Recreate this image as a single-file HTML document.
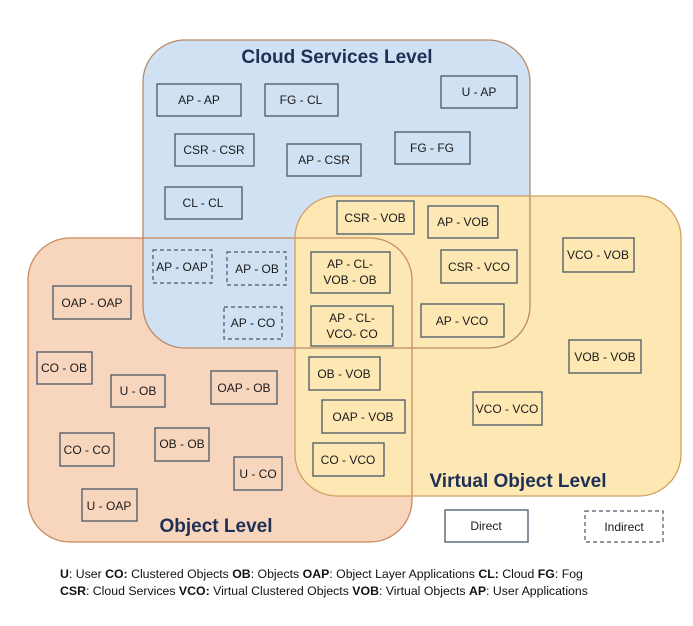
<!DOCTYPE html>
<html><head><meta charset="utf-8"><style>
html,body{margin:0;padding:0;background:#fff;}
svg{display:block;}
text{font-family:"Liberation Sans",sans-serif;}
.b{fill:none;stroke:#4a5868;stroke-width:1.3;}
.d{fill:none;stroke:#4a5868;stroke-width:1.2;stroke-dasharray:4 3;}
.t{font-size:12px;fill:#1a1a1a;text-anchor:middle;}
.h{font-size:19px;font-weight:bold;fill:#1f3056;}
.l{font-size:12.3px;fill:#111;}
</style></head><body>
<svg width="693" height="626" viewBox="0 0 693 626">
<rect width="693" height="626" fill="#fff"/>
<!-- fills -->
<rect x="28" y="238" width="384" height="304" rx="42" fill="#f8d5bd"/>
<rect x="143" y="40" width="387" height="308" rx="42" fill="#cfe1f3"/>
<rect x="295" y="196" width="386" height="300" rx="42" fill="#fde8b4"/>
<!-- outlines -->
<rect x="28" y="238" width="384" height="304" rx="42" fill="none" stroke="#c98a60" stroke-width="1.3"/>
<rect x="143" y="40" width="387" height="308" rx="42" fill="none" stroke="#b88a68" stroke-width="1.3"/>
<rect x="295" y="196" width="386" height="300" rx="42" fill="none" stroke="#d0a060" stroke-width="1.3"/>

<text class="h" x="337" y="63" text-anchor="middle">Cloud Services Level</text>
<text class="h" x="518" y="487" text-anchor="middle">Virtual Object Level</text>
<text class="h" x="216" y="532" text-anchor="middle">Object Level</text>

<g>
<rect class="b" x="157" y="84" width="84" height="32"/><text class="t" x="199" y="104">AP - AP</text>
<rect class="b" x="265" y="84" width="73" height="32"/><text class="t" x="301" y="104">FG - CL</text>
<rect class="b" x="441" y="76" width="76" height="32"/><text class="t" x="479" y="96">U - AP</text>
<rect class="b" x="175" y="134" width="79" height="32"/><text class="t" x="214" y="154">CSR - CSR</text>
<rect class="b" x="287" y="144" width="74" height="32"/><text class="t" x="324" y="164">AP - CSR</text>
<rect class="b" x="395" y="132" width="75" height="32"/><text class="t" x="432" y="152">FG - FG</text>
<rect class="b" x="165" y="187" width="77" height="32"/><text class="t" x="203" y="207">CL - CL</text>
<rect class="b" x="337" y="201" width="77" height="33"/><text class="t" x="375" y="222">CSR - VOB</text>
<rect class="b" x="428" y="206" width="70" height="32"/><text class="t" x="463" y="226">AP - VOB</text>
<rect class="b" x="563" y="238" width="71" height="34"/><text class="t" x="598" y="259">VCO - VOB</text>
<rect class="b" x="441" y="250" width="76" height="33"/><text class="t" x="479" y="271">CSR - VCO</text>
<rect class="b" x="421" y="304" width="83" height="33"/><text class="t" x="462" y="325">AP - VCO</text>
<rect class="b" x="311" y="252" width="79" height="41"/><text class="t" x="350" y="268">AP - CL-</text><text class="t" x="350" y="284">VOB - OB</text>
<rect class="b" x="311" y="306" width="82" height="40"/><text class="t" x="352" y="322">AP - CL-</text><text class="t" x="352" y="338">VCO- CO</text>
<rect class="d" x="153" y="250" width="59" height="33"/><text class="t" x="182" y="271">AP - OAP</text>
<rect class="d" x="227" y="252" width="59" height="33"/><text class="t" x="257" y="273">AP - OB</text>
<rect class="d" x="224" y="307" width="58" height="32"/><text class="t" x="253" y="327">AP - CO</text>
<rect class="b" x="53" y="286" width="78" height="33"/><text class="t" x="92" y="307">OAP - OAP</text>
<rect class="b" x="37" y="352" width="55" height="32"/><text class="t" x="64" y="372">CO - OB</text>
<rect class="b" x="111" y="375" width="54" height="32"/><text class="t" x="138" y="395">U - OB</text>
<rect class="b" x="211" y="371" width="66" height="33"/><text class="t" x="244" y="392">OAP - OB</text>
<rect class="b" x="309" y="357" width="71" height="33"/><text class="t" x="344" y="378">OB - VOB</text>
<rect class="b" x="322" y="400" width="83" height="33"/><text class="t" x="363" y="421">OAP - VOB</text>
<rect class="b" x="60" y="433" width="54" height="33"/><text class="t" x="87" y="454">CO - CO</text>
<rect class="b" x="155" y="428" width="54" height="33"/><text class="t" x="182" y="448">OB - OB</text>
<rect class="b" x="234" y="457" width="48" height="33"/><text class="t" x="258" y="478">U - CO</text>
<rect class="b" x="313" y="443" width="71" height="33"/><text class="t" x="348" y="464">CO - VCO</text>
<rect class="b" x="82" y="489" width="55" height="32"/><text class="t" x="109" y="510">U - OAP</text>
<rect class="b" x="569" y="340" width="72" height="33"/><text class="t" x="605" y="361">VOB - VOB</text>
<rect class="b" x="473" y="392" width="69" height="33"/><text class="t" x="507" y="413">VCO - VCO</text>
<rect class="b" x="445" y="510" width="83" height="32"/><text class="t" x="486" y="530">Direct</text>
<rect class="d" x="585" y="511" width="78" height="31"/><text class="t" x="624" y="531">Indirect</text>
</g>

<text class="l" x="60" y="578"><tspan font-weight="bold">U</tspan>: User <tspan font-weight="bold">CO:</tspan> Clustered Objects <tspan font-weight="bold">OB</tspan>: Objects <tspan font-weight="bold">OAP</tspan>: Object Layer Applications <tspan font-weight="bold">CL:</tspan> Cloud <tspan font-weight="bold">FG</tspan>: Fog</text>
<text class="l" x="60" y="595"><tspan font-weight="bold">CSR</tspan>: Cloud Services <tspan font-weight="bold">VCO:</tspan> Virtual Clustered Objects <tspan font-weight="bold">VOB</tspan>: Virtual Objects <tspan font-weight="bold">AP</tspan>: User Applications</text>
</svg>
</body></html>
